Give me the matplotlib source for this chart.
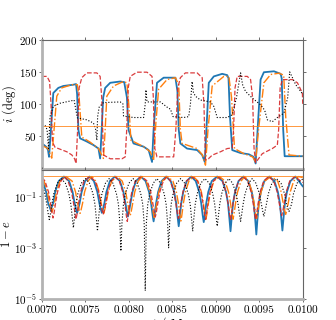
import numpy as np
import matplotlib.pyplot as plt
from matplotlib.ticker import FormatStrFormatter, NullLocator

plt.rcParams['font.family'] = 'serif'
plt.rcParams['font.serif'] = ['cmr10']
plt.rcParams['mathtext.fontset'] = 'cm'
plt.rcParams['axes.formatter.use_mathtext'] = True
plt.rcParams['font.size'] = 8

# all times in kyr, converted to Myr when plotted
# ---- inclination (deg) ----
t_inc_blue = [7.000, 7.046, 7.069, 7.081, 7.098, 7.130, 7.188, 7.246, 7.361, 7.392, 7.404, 7.419,
              7.438, 7.516, 7.592, 7.650, 7.669, 7.687, 7.704, 7.727, 7.785, 7.900, 7.946, 7.977,
              7.996, 8.053, 8.169, 8.227, 8.266, 8.284, 8.323, 8.400, 8.477, 8.535, 8.558, 8.573,
              8.592, 8.669, 8.785, 8.843, 8.873, 8.892, 8.919, 8.977, 9.073, 9.131, 9.146, 9.163,
              9.189, 9.285, 9.380, 9.435, 9.458, 9.481, 9.515, 9.553, 9.669, 9.746, 9.758, 9.775,
              9.792, 10.000]
inc_blue = [38, 33, 28, 17, 50, 117, 125, 128, 130, 131, 115, 59,
            46, 41, 35.5, 30, 14.5, 60, 110, 125, 133, 135, 134, 110,
            59, 38, 33, 27.6, 9, 60, 133, 141, 141, 141, 120, 60,
            38, 30, 27.6, 20, 9, 60, 133, 143, 147, 145, 140, 80,
            27.6, 23, 21, 17, 6.6, 60, 138, 149.5, 151, 147, 140, 60,
            18, 18]

t_inc_orange = [7.000, 7.069, 7.112, 7.133, 7.170, 7.227, 7.343, 7.407, 7.427, 7.458, 7.554, 7.650,
                7.707, 7.727, 7.746, 7.823, 7.938, 7.977, 7.998, 8.023, 8.169, 8.246, 8.284, 8.310,
                8.342, 8.438, 8.535, 8.573, 8.592, 8.612, 8.785, 8.846, 8.881, 8.910, 8.958, 9.092,
                9.150, 9.181, 9.215, 9.323, 9.423, 9.458, 9.492, 9.553, 9.631, 9.726, 9.781, 9.804,
                9.842, 10.000]
inc_orange = [35, 30, 15, 50, 112, 125, 130, 130, 110, 48, 40, 30,
              14.5, 60, 112, 128, 135, 133, 100, 43, 33, 25, 11.4, 70,
              123, 138, 141, 130, 60, 38, 30, 20, 4, 60, 128, 143,
              143, 110, 30, 22, 17, 9, 60, 133, 146, 148, 145, 80,
              20, 18]

t_inc_red = [7.000, 7.058, 7.087, 7.104, 7.121, 7.150, 7.208, 7.285, 7.343, 7.375, 7.392, 7.410,
             7.427, 7.458, 7.516, 7.631, 7.669, 7.687, 7.707, 7.785, 7.920, 7.958, 7.975, 7.992,
             8.015, 8.093, 8.208, 8.266, 8.281, 8.298, 8.323, 8.515, 8.540, 8.563, 8.592, 8.650,
             8.785, 8.843, 8.863, 8.881, 8.915, 8.958, 9.054, 9.131, 9.189, 9.204, 9.221, 9.246,
             9.362, 9.400, 9.423, 9.440, 9.458, 9.535, 9.650, 9.708, 9.723, 9.740, 9.766, 9.881,
             9.939, 9.996, 10.000]
inc_red = [143, 143, 135, 100, 40, 32, 29, 25, 20, 14, 6.6, 60,
           125, 141, 148.5, 148.5, 143, 110, 20, 14, 14, 17, 60, 125,
           143, 149.6, 149.6, 143, 110, 30, 17, 17, 60, 125, 141, 148.5,
           148.5, 141, 100, 12, 14, 19.7, 25, 30, 31, 60, 125, 143,
           143, 138, 110, 30, 8, 22, 30, 35.5, 60, 125, 138, 138,
           133, 117, 100]

t_inc_black = [7.000, 7.035, 7.058, 7.075, 7.092, 7.130, 7.208, 7.343, 7.369, 7.407, 7.516, 7.592,
               7.617, 7.631, 7.640, 7.658, 7.707, 7.900, 7.931, 7.938, 8.053, 8.169, 8.188, 8.196,
               8.208, 8.362, 8.457, 8.477, 8.508, 8.630, 8.688, 8.708, 8.727, 8.742, 8.765, 8.823,
               8.938, 8.977, 9.016, 9.131, 9.189, 9.238, 9.285, 9.308, 9.342, 9.420, 9.515, 9.562,
               9.593, 9.650, 9.708, 9.784, 9.827, 9.850, 9.885, 9.919, 9.977, 10.000]
inc_black = [67, 66, 60, 30, 80, 96, 101, 105, 106, 78, 75, 70,
             60, 43, 80, 95, 102, 103, 100, 81, 78.6, 78.6, 100, 122,
             103, 103, 93, 92, 80, 78.6, 80, 100, 135, 118, 112, 106,
             103, 96, 78.6, 78.6, 83, 110, 148.5, 130, 119.5, 109, 98.6, 90,
             75, 72, 78.6, 85.5, 110, 150, 140, 130, 119.5, 115]

i_line = 65

# ---- 1 - e ----
t_e_blue = [7.000, 7.008, 7.048, 7.071, 7.0885, 7.100, 7.1115, 7.129, 7.152, 7.192, 7.252,
            7.312, 7.352, 7.375, 7.3925, 7.404, 7.4155, 7.433, 7.456, 7.496, 7.547,
            7.597, 7.637, 7.660, 7.6775, 7.689, 7.7005, 7.718, 7.741, 7.781, 7.839,
            7.897, 7.937, 7.960, 7.9775, 7.989, 8.0005, 8.018, 8.041, 8.081, 8.137,
            8.192, 8.232, 8.255, 8.2725, 8.284, 8.2955, 8.313, 8.336, 8.376, 8.429,
            8.481, 8.521, 8.544, 8.5615, 8.573, 8.5845, 8.602, 8.625, 8.665, 8.717,
            8.769, 8.809, 8.832, 8.8495, 8.861, 8.8725, 8.890, 8.913, 8.953, 9.015,
            9.077, 9.117, 9.140, 9.1575, 9.169, 9.1805, 9.198, 9.221, 9.261, 9.318,
            9.374, 9.414, 9.437, 9.4545, 9.466, 9.4775, 9.495, 9.518, 9.558, 9.616,
            9.674, 9.714, 9.737, 9.7545, 9.766, 9.7775, 9.795, 9.818, 9.858, 9.916,
            10.000]
e_blue = [0.50, 0.40, 0.15, 0.055, 0.038, 0.030, 0.038, 0.055, 0.15, 0.40, 0.60,
          0.40, 0.15, 0.055, 0.031, 0.023, 0.031, 0.055, 0.15, 0.40, 0.60,
          0.40, 0.15, 0.055, 0.031, 0.023, 0.031, 0.055, 0.15, 0.40, 0.60,
          0.40, 0.15, 0.055, 0.025, 0.0166, 0.025, 0.055, 0.15, 0.40, 0.60,
          0.40, 0.15, 0.055, 0.019, 0.0107, 0.019, 0.055, 0.15, 0.40, 0.60,
          0.40, 0.15, 0.055, 0.015, 0.0069, 0.015, 0.055, 0.15, 0.40, 0.60,
          0.40, 0.15, 0.055, 0.018, 0.010, 0.018, 0.055, 0.15, 0.40, 0.60,
          0.40, 0.15, 0.055, 0.0124, 0.0044, 0.0124, 0.055, 0.15, 0.40, 0.60,
          0.40, 0.15, 0.055, 0.0113, 0.0033, 0.0113, 0.055, 0.15, 0.40, 0.60,
          0.40, 0.15, 0.055, 0.0127, 0.0047, 0.0127, 0.055, 0.15, 0.40, 0.60,
          0.25]

t_e_orange = [7.000, 7.023, 7.063, 7.086, 7.1035, 7.115, 7.1265, 7.144, 7.167, 7.207, 7.276,
              7.346, 7.386, 7.409, 7.4265, 7.438, 7.4495, 7.467, 7.490, 7.530, 7.574,
              7.618, 7.658, 7.681, 7.6985, 7.710, 7.7215, 7.739, 7.762, 7.802, 7.862,
              7.923, 7.963, 7.986, 8.0035, 8.015, 8.0265, 8.044, 8.067, 8.107, 8.153,
              8.200, 8.240, 8.263, 8.2805, 8.292, 8.3035, 8.321, 8.344, 8.384, 8.445,
              8.506, 8.546, 8.569, 8.5865, 8.598, 8.6095, 8.627, 8.650, 8.690, 8.742,
              8.794, 8.834, 8.857, 8.8745, 8.886, 8.8975, 8.915, 8.938, 8.978, 9.042,
              9.106, 9.146, 9.169, 9.1865, 9.198, 9.2095, 9.227, 9.250, 9.290, 9.333,
              9.377, 9.417, 9.440, 9.4575, 9.469, 9.4805, 9.498, 9.521, 9.561, 9.636,
              9.712, 9.752, 9.775, 9.7925, 9.804, 9.8155, 9.833, 9.856, 9.896, 9.950,
              10.000]
e_orange = [0.45, 0.40, 0.15, 0.055, 0.033, 0.025, 0.033, 0.055, 0.15, 0.40, 0.60,
            0.40, 0.15, 0.055, 0.030, 0.022, 0.030, 0.055, 0.15, 0.40, 0.60,
            0.40, 0.15, 0.055, 0.030, 0.022, 0.030, 0.055, 0.15, 0.40, 0.60,
            0.40, 0.15, 0.055, 0.026, 0.018, 0.026, 0.055, 0.15, 0.40, 0.60,
            0.40, 0.15, 0.055, 0.023, 0.015, 0.023, 0.055, 0.15, 0.40, 0.60,
            0.40, 0.15, 0.055, 0.019, 0.011, 0.019, 0.055, 0.15, 0.40, 0.60,
            0.40, 0.15, 0.055, 0.021, 0.013, 0.021, 0.055, 0.15, 0.40, 0.60,
            0.40, 0.15, 0.055, 0.021, 0.013, 0.021, 0.055, 0.15, 0.40, 0.60,
            0.40, 0.15, 0.055, 0.022, 0.014, 0.022, 0.055, 0.15, 0.40, 0.60,
            0.40, 0.15, 0.055, 0.028, 0.020, 0.028, 0.055, 0.15, 0.40, 0.60,
            0.55]

t_e_red = [7.000, 7.035, 7.075, 7.098, 7.1155, 7.127, 7.1385, 7.156, 7.179, 7.219, 7.260,
           7.300, 7.340, 7.363, 7.3805, 7.392, 7.4035, 7.421, 7.444, 7.484, 7.548,
           7.612, 7.652, 7.675, 7.6925, 7.704, 7.7155, 7.733, 7.756, 7.796, 7.842,
           7.889, 7.929, 7.952, 7.9695, 7.981, 7.9925, 8.010, 8.033, 8.073, 8.142,
           8.212, 8.252, 8.275, 8.2925, 8.304, 8.3155, 8.333, 8.356, 8.396, 8.436,
           8.477, 8.517, 8.540, 8.5575, 8.569, 8.5805, 8.598, 8.621, 8.661, 8.725,
           8.789, 8.829, 8.852, 8.8695, 8.881, 8.8925, 8.910, 8.933, 8.973, 9.025,
           9.077, 9.117, 9.140, 9.1575, 9.169, 9.1805, 9.198, 9.221, 9.261, 9.313,
           9.366, 9.406, 9.429, 9.4465, 9.458, 9.4695, 9.487, 9.510, 9.550, 9.608,
           9.666, 9.706, 9.729, 9.7465, 9.758, 9.7695, 9.787, 9.810, 9.850, 9.910,
           10.000]
e_red = [0.55, 0.40, 0.15, 0.055, 0.022, 0.0145, 0.022, 0.055, 0.15, 0.40, 0.60,
         0.40, 0.15, 0.055, 0.021, 0.013, 0.021, 0.055, 0.15, 0.40, 0.60,
         0.40, 0.15, 0.055, 0.028, 0.020, 0.028, 0.055, 0.15, 0.40, 0.60,
         0.40, 0.15, 0.055, 0.019, 0.0107, 0.019, 0.055, 0.15, 0.40, 0.60,
         0.40, 0.15, 0.055, 0.024, 0.016, 0.024, 0.055, 0.15, 0.40, 0.60,
         0.40, 0.15, 0.055, 0.022, 0.014, 0.022, 0.055, 0.15, 0.40, 0.60,
         0.40, 0.15, 0.055, 0.021, 0.0126, 0.021, 0.055, 0.15, 0.40, 0.60,
         0.40, 0.15, 0.055, 0.021, 0.0126, 0.021, 0.055, 0.15, 0.40, 0.60,
         0.40, 0.15, 0.055, 0.021, 0.0126, 0.021, 0.055, 0.15, 0.40, 0.60,
         0.40, 0.15, 0.055, 0.026, 0.018, 0.026, 0.055, 0.15, 0.40, 0.60,
         0.35]

t_e_black = [7.000, 7.032, 7.055, 7.0725, 7.084, 7.0955, 7.113, 7.136, 7.176, 7.222,
             7.269, 7.309, 7.332, 7.3495, 7.361, 7.3725, 7.390, 7.413, 7.453, 7.500,
             7.546, 7.586, 7.609, 7.6265, 7.638, 7.6495, 7.667, 7.690, 7.730, 7.773,
             7.816, 7.856, 7.879, 7.8965, 7.908, 7.9195, 7.937, 7.960, 8.000, 8.048,
             8.096, 8.136, 8.159, 8.1765, 8.188, 8.1995, 8.217, 8.240, 8.280, 8.322,
             8.365, 8.405, 8.428, 8.4455, 8.457, 8.4685, 8.486, 8.509, 8.549, 8.595,
             8.642, 8.682, 8.705, 8.7225, 8.734, 8.7455, 8.763, 8.786, 8.826, 8.875,
             8.924, 8.964, 8.987, 9.0045, 9.016, 9.0275, 9.045, 9.068, 9.108, 9.150,
             9.193, 9.233, 9.256, 9.2735, 9.285, 9.2965, 9.314, 9.337, 9.377, 9.419,
             9.461, 9.501, 9.524, 9.5415, 9.553, 9.5645, 9.582, 9.605, 9.645, 9.697,
             9.750, 9.790, 9.813, 9.8305, 9.842, 9.8535, 9.871, 9.894, 9.934, 10.000]
e_black = [0.30, 0.13, 0.05, 0.020, 0.0126, 0.020, 0.05, 0.13, 0.33, 0.50,
           0.33, 0.13, 0.05, 0.014, 0.006, 0.014, 0.05, 0.13, 0.33, 0.50,
           0.33, 0.13, 0.05, 0.0125, 0.0045, 0.0125, 0.05, 0.13, 0.33, 0.50,
           0.33, 0.13, 0.05, 0.0087, 0.00074, 0.0087, 0.05, 0.13, 0.33, 0.50,
           0.33, 0.13, 0.05, 0.008, 0.000021, 0.008, 0.05, 0.13, 0.33, 0.50,
           0.33, 0.13, 0.05, 0.009, 0.001, 0.009, 0.05, 0.13, 0.33, 0.50,
           0.33, 0.13, 0.05, 0.0124, 0.0044, 0.0124, 0.05, 0.13, 0.33, 0.50,
           0.33, 0.13, 0.05, 0.015, 0.0069, 0.015, 0.05, 0.13, 0.33, 0.50,
           0.33, 0.13, 0.05, 0.019, 0.0107, 0.019, 0.05, 0.13, 0.33, 0.50,
           0.33, 0.13, 0.05, 0.025, 0.0166, 0.025, 0.05, 0.13, 0.33, 0.50,
           0.33, 0.13, 0.05, 0.034, 0.026, 0.034, 0.05, 0.13, 0.33, 0.48]

e_line = 0.63


def myr(t_kyr):
    return np.array(t_kyr) / 1000.0


fig = plt.figure(figsize=(3.36, 3.2), dpi=100)
ax1 = fig.add_axes([0.125, 0.4719, 0.776, 0.4031])
ax2 = fig.add_axes([0.125, 0.0656, 0.776, 0.4031])

# top: inclination
ax1.plot(myr(t_inc_blue), inc_blue, color='C0', lw=1.3)
ax1.plot(myr(t_inc_orange), inc_orange, color='C1', lw=1.0, ls='-.')
ax1.plot(myr(t_inc_red), inc_red, color='C3', lw=0.9, ls='--', alpha=0.9)
ax1.plot(myr(t_inc_black), inc_black, color='k', lw=0.8, ls=':')
ax1.axhline(i_line, color='C1', lw=0.7, alpha=0.8)
ax1.set_ylim(-2, 200)
ax1.set_yticks([50, 100, 150, 200])
ax1.set_ylabel(r'$i$ (deg)', fontsize=9)
ax1.yaxis.set_label_coords(-0.092, 0.5)
ax1.tick_params(labelbottom=False)

# bottom: 1 - e
ax2.plot(myr(t_e_blue), e_blue, color='C0', lw=1.3)
ax2.plot(myr(t_e_orange), e_orange, color='C1', lw=1.0, ls='-.')
ax2.plot(myr(t_e_red), e_red, color='C3', lw=0.9, ls='--', alpha=0.9)
ax2.plot(myr(t_e_black), e_black, color='k', lw=0.8, ls=':')
ax2.axhline(e_line, color='C1', lw=0.7, alpha=0.8)
ax2.set_yscale('log')
ax2.set_ylim(1e-5, 1.08)
ax2.set_yticks([1e-5, 1e-3, 1e-1])
ax2.yaxis.set_minor_locator(NullLocator())
ax2.set_ylabel(r'$1-e$', fontsize=9)
ax2.yaxis.set_label_coords(-0.11, 0.5)
ax2.set_xlabel(r'$t$ / Myr', fontsize=9, labelpad=0)
ax2.xaxis.set_major_formatter(FormatStrFormatter('%.4f'))

for ax in (ax1, ax2):
    ax.set_xlim(0.007, 0.010)
    ax.set_xticks(np.arange(0.0070, 0.01001, 0.0005))
    ax.tick_params(direction='out', length=2.5, width=0.6, color='#555555',
                   top=True, right=True, labelsize=8)
    ax.tick_params(axis='y', pad=1)
    ax.tick_params(axis='x', pad=2.5)
    for side in ('left', 'bottom'):
        ax.spines[side].set_color('#b3b3b3')
        ax.spines[side].set_linewidth(2.0)
    for side in ('top', 'right'):
        ax.spines[side].set_color('#666666')
        ax.spines[side].set_linewidth(0.8)

fig.savefig('out.png', dpi=100)
